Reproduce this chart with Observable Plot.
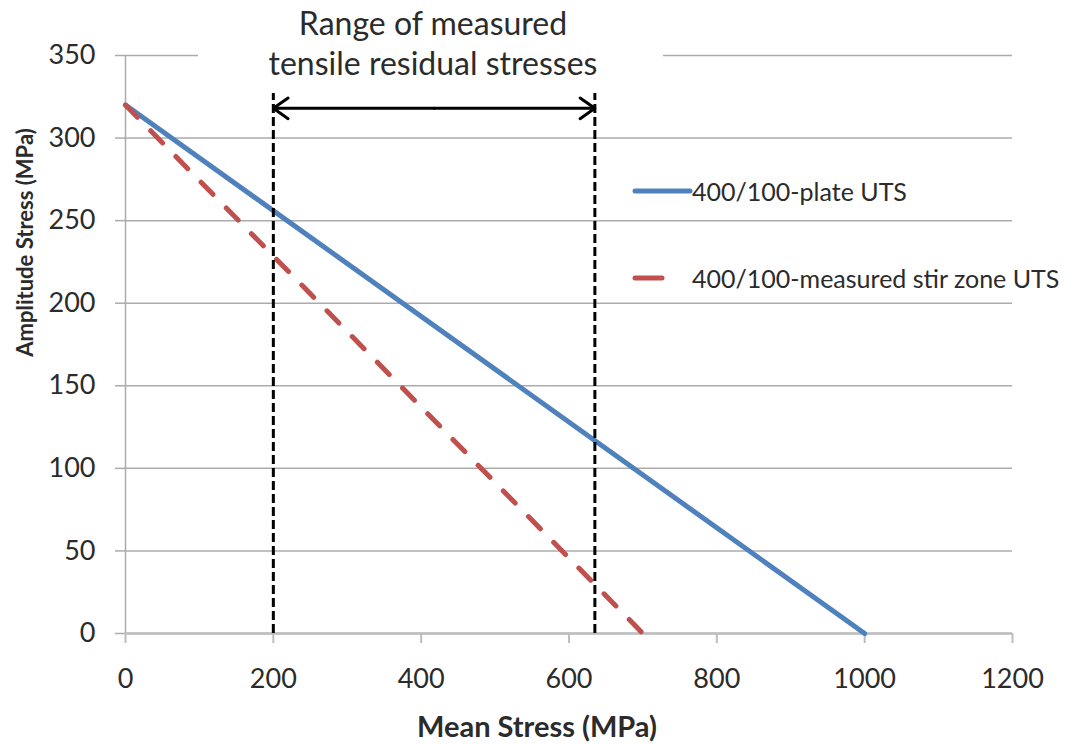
<!DOCTYPE html>
<html><head><meta charset="utf-8">
<script src="https://cdn.jsdelivr.net/npm/d3@7"></script>
<script src="https://cdn.jsdelivr.net/npm/@observablehq/plot@0.6"></script>
<style>
body{margin:0;background:#fff;}
#wrap{position:relative;width:1068px;height:744px;font-family:Lato,"Open Sans",sans-serif;}
#wrap svg.overlay{position:absolute;left:0;top:0;pointer-events:none;}
</style></head><body><div id="wrap"></div>
<script>
// ---- data ----
const plateMean = [0, 1000];
const plateAmp = [320, 0];
const stirMean = [0, 700];
const stirAmp = [320, 0];
const rangeBounds = [200, 635];
const rangeTop = 327;
const arrowLevel = 318;
const xTicks = [0, 200, 400, 600, 800, 1000, 1200];
const yTicks = [0, 50, 100, 150, 200, 250, 300, 350];
const seriesNames = ["400/100-plate UTS", "400/100-measured stir zone UTS"];
const seriesColors = ["#4F81BD", "#C0504D"];
const titleLines = ["Range of measured", "tensile residual stresses"];
const xLabel = "Mean Stress (MPa)";
const yLabel = "Amplitude Stress (MPa)";

const plate = plateMean.map((m, i) => ({mean: m, amp: plateAmp[i]}));
const stir = stirMean.map((m, i) => ({mean: m, amp: stirAmp[i]}));
const rangeMid = (rangeBounds[0] + rangeBounds[1]) / 2;
const arrows = rangeBounds.map(b => ({from: rangeMid, to: b, y: arrowLevel}));

const gridColor = "#ababab";
const textColor = "#2b2b2b";

const chart = Plot.plot({
  width: 1068,
  height: 744,
  marginLeft: 125,
  marginRight: 56,
  marginTop: 55,
  marginBottom: 111,
  style: {fontFamily: "Lato, 'Open Sans', sans-serif", fontSize: "27px", color: textColor, background: "#fff"},
  x: {domain: [0, 1200]},
  y: {domain: [0, 350]},
  marks: [
    Plot.gridY({ticks: yTicks, stroke: gridColor, strokeOpacity: 1, strokeWidth: 1.5}),
    Plot.ruleX([0], {stroke: gridColor, strokeWidth: 1.5}),
    Plot.axisY({ticks: yTicks, tickSize: 10, tickPadding: 20, tickFormat: d => String(d), stroke: gridColor, strokeWidth: 1.5, fill: textColor, fontSize: 27, label: null}),
    Plot.axisX({ticks: xTicks, tickSize: 10, tickPadding: 25, tickFormat: d => String(d), stroke: "#bdbdbd", strokeWidth: 2, fill: textColor, fontSize: 27, label: null}),
    Plot.ruleY([0], {stroke: "#bdbdbd", strokeWidth: 2.5}),
    Plot.line(plate, {x: "mean", y: "amp", stroke: seriesColors[0], strokeWidth: 5}),
    Plot.line(stir, {x: "mean", y: "amp", stroke: seriesColors[1], strokeWidth: 5, strokeDasharray: "17,19", strokeLinecap: "round"}),
    Plot.ruleX(rangeBounds, {y1: 0, y2: rangeTop, stroke: "#000", strokeWidth: 3, strokeDasharray: "9,4"}),
    Plot.arrow(arrows, {x1: "from", x2: "to", y1: "y", y2: "y", stroke: "#000", strokeWidth: 3, headLength: 9, headAngle: 70}),
    Plot.text([xLabel], {text: d => d, frameAnchor: "bottom", lineAnchor: "middle", textAnchor: "middle", dx: -32, dy: 94, fontWeight: "bold", fontSize: 29, fill: textColor}),
    Plot.text([yLabel], {text: d => d, frameAnchor: "left", lineAnchor: "middle", textAnchor: "middle", dx: -100, dy: -102, rotate: -90, fontWeight: "bold", fontSize: 22, fill: textColor})
  ]
});

const wrap = document.getElementById("wrap");
wrap.appendChild(chart);

// overlay: title box and legend
const ov = d3.select(wrap).append("svg").attr("class", "overlay")
  .attr("width", 1068).attr("height", 744)
  .style("font-family", "Lato, 'Open Sans', sans-serif");

ov.append("rect").attr("x", 198).attr("y", 0).attr("width", 465).attr("height", 90).attr("fill", "#fff");
ov.selectAll("text.title").data(titleLines).join("text")
  .attr("class", "title")
  .attr("x", 433).attr("y", (d, i) => 35 + i * 40)
  .attr("text-anchor", "middle").attr("font-size", 32).attr("fill", textColor)
  .text(d => d);

const legendY = [191, 278];
const legendSampleEnd = [690, 662];
seriesNames.forEach((name, i) => {
  ov.append("line").attr("x1", 635).attr("x2", legendSampleEnd[i])
    .attr("y1", legendY[i]).attr("y2", legendY[i])
    .attr("stroke", seriesColors[i]).attr("stroke-width", 5).attr("stroke-linecap", "round");
  ov.append("text").attr("x", 692).attr("y", legendY[i] + 10)
    .attr("font-size", 25).attr("fill", textColor).text(name);
});
</script>
</body></html>
